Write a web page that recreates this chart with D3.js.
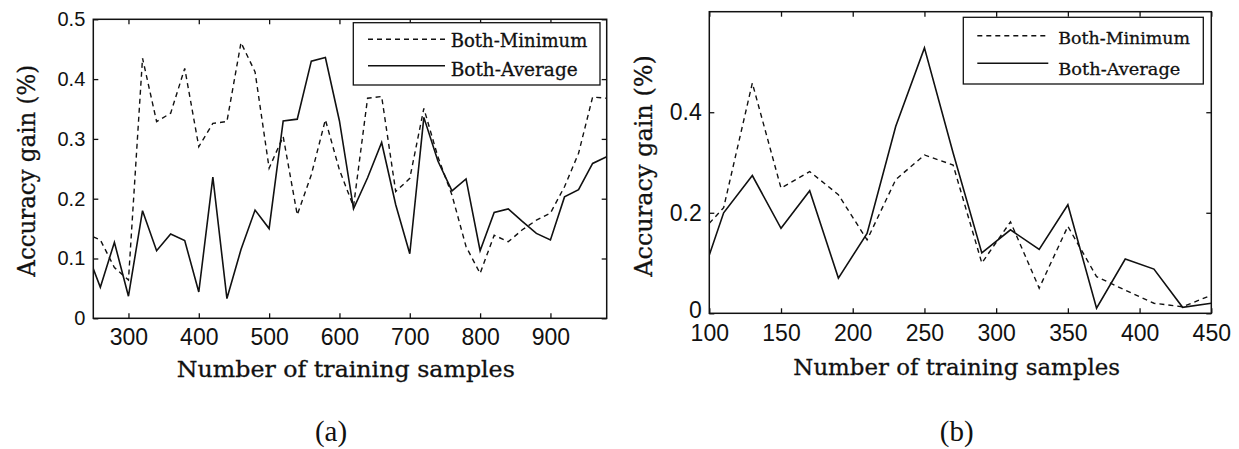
<!DOCTYPE html>
<html lang="en">
<head>
  <meta charset="UTF-8">
  <script src="https://d3js.org/d3.v7.min.js"></script>
  <style>
    body { margin: 0; background: #ffffff; }
    .tick-label { font-family: "Liberation Sans", Arial, sans-serif; fill: #111; }
    .serif { font-family: "DejaVu Serif", serif; fill: #111; stroke: #111; stroke-width: 0.3px; }
    .caption { font-family: "Liberation Serif", "Times New Roman", serif; fill: #111; }
  </style>
</head>
<body>
<div id="chart"></div>
<script>
  // panel (a)
  const aX = [250, 260, 280, 300, 320, 340, 360, 380, 400, 420, 440, 460, 480, 500, 520, 540, 560, 580, 600,
              620, 640, 660, 680, 700, 720, 740, 760, 780, 800, 820, 840, 860, 880, 900, 920, 940, 960, 980];
  const aMinimum = [0.136, 0.131, 0.085, 0.064, 0.435, 0.329, 0.343, 0.418, 0.287, 0.326, 0.329, 0.461, 0.412,
                    0.251, 0.304, 0.173, 0.24, 0.332, 0.248, 0.187, 0.368, 0.371, 0.212, 0.234, 0.351, 0.27,
                    0.206, 0.12, 0.075, 0.139, 0.128, 0.148, 0.164, 0.176, 0.22, 0.276, 0.37, 0.368];
  const aAverage = [0.083, 0.052, 0.127, 0.037, 0.18, 0.113, 0.141, 0.13, 0.044, 0.236, 0.033, 0.115, 0.181,
                    0.15, 0.33, 0.333, 0.43, 0.436, 0.33, 0.183, 0.235, 0.294, 0.19, 0.108, 0.336, 0.263,
                    0.213, 0.233, 0.113, 0.177, 0.183, 0.162, 0.142, 0.131, 0.203, 0.215, 0.259, 0.27];
  const aXTicks = [300, 400, 500, 600, 700, 800, 900];
  const aYTicks = [0, 0.1, 0.2, 0.3, 0.4, 0.5];

  // panel (b)
  const bX = [100, 110, 130, 150, 170, 190, 210, 230, 250, 270, 290, 310, 330, 350, 370, 390, 410, 430, 450];
  const bMinimum = [0.179, 0.21, 0.458, 0.249, 0.282, 0.236, 0.146, 0.266, 0.315, 0.295, 0.1, 0.182, 0.05,
                    0.173, 0.073, 0.046, 0.02, 0.013, 0.036];
  const bAverage = [0.116, 0.2, 0.274, 0.169, 0.244, 0.07, 0.159, 0.372, 0.528, 0.319, 0.12, 0.166, 0.127,
                    0.216, 0.01, 0.108, 0.088, 0.012, 0.02];
  const bXTicks = [100, 150, 200, 250, 300, 350, 400, 450];
  const bYTicks = [0, 0.2, 0.4];

  const seriesNames = ["Both-Minimum", "Both-Average"];
  const xTitle = "Number of training samples";
  const yTitle = "Accuracy gain (%)";

  const width = 1239, height = 449;

  const svg = d3.select("#chart").append("svg")
    .attr("width", width)
    .attr("height", height)
    .style("background", "#ffffff");

  function drawPanel(p) {
    const x = d3.scaleLinear().domain(p.xDomain).range([p.x0, p.x1]);
    const y = d3.scaleLinear().domain(p.yDomain).range([p.y1, p.y0]);
    const g = svg.append("g");

    g.append("clipPath").attr("id", p.id + "-clip")
      .append("rect")
      .attr("x", p.x0).attr("y", p.y0)
      .attr("width", p.x1 - p.x0).attr("height", p.y1 - p.y0);

    // ticks on all four sides, pointing inwards
    const bottom = g.append("g").attr("transform", `translate(0,${p.y1})`)
      .call(d3.axisBottom(x).tickValues(p.xTicks).tickSizeInner(-5).tickSizeOuter(0).tickPadding(p.xPad));
    const top = g.append("g").attr("transform", `translate(0,${p.y0})`)
      .call(d3.axisTop(x).tickValues(p.xTicks).tickSizeInner(-5).tickSizeOuter(0).tickFormat(""));
    const left = g.append("g").attr("transform", `translate(${p.x0},0)`)
      .call(d3.axisLeft(y).tickValues(p.yTicks).tickSizeInner(-5).tickSizeOuter(0).tickPadding(p.yPad)
        .tickFormat(d => d));
    const right = g.append("g").attr("transform", `translate(${p.x1},0)`)
      .call(d3.axisRight(y).tickValues(p.yTicks).tickSizeInner(-5).tickSizeOuter(0).tickFormat(""));

    [bottom, top, left, right].forEach(a => {
      a.select(".domain").remove();
      a.selectAll("line").attr("stroke", "#111").attr("stroke-width", 1.3);
      a.selectAll("text").attr("class", "tick-label").attr("fill", "#111");
    });
    bottom.selectAll("text").style("font-size", p.xFont + "px");
    left.selectAll("text").style("font-size", p.yFont + "px");
    // the zero label sits just above the first x label
    left.selectAll(".tick").filter(d => d === 0).select("text").attr("dy", p.zeroDy);

    const line = d3.line().x((d, i) => x(p.xs[i])).y(d => y(d));

    g.append("path").datum(p.minimum)
      .attr("clip-path", `url(#${p.id}-clip)`)
      .attr("fill", "none").attr("stroke", "#111")
      .attr("stroke-width", 1.4).attr("stroke-dasharray", "5,4")
      .attr("d", line);
    g.append("path").datum(p.average)
      .attr("clip-path", `url(#${p.id}-clip)`)
      .attr("fill", "none").attr("stroke", "#111")
      .attr("stroke-width", 1.6)
      .attr("d", line);

    // frame
    g.append("rect")
      .attr("x", p.x0).attr("y", p.y0)
      .attr("width", p.x1 - p.x0).attr("height", p.y1 - p.y0)
      .attr("fill", "none").attr("stroke", "#111").attr("stroke-width", 1.5);

    // legend
    const L = p.legend;
    g.append("rect")
      .attr("x", L.x0).attr("y", L.y0)
      .attr("width", L.x1 - L.x0).attr("height", L.y1 - L.y0)
      .attr("fill", "#ffffff").attr("stroke", "#111").attr("stroke-width", 1.3);
    seriesNames.forEach((name, i) => {
      g.append("line")
        .attr("x1", L.lx0).attr("x2", L.lx1)
        .attr("y1", L.rows[i]).attr("y2", L.rows[i])
        .attr("stroke", "#111")
        .attr("stroke-width", i === 0 ? 1.4 : 1.6)
        .attr("stroke-dasharray", i === 0 ? "5,4" : null);
      g.append("text").attr("class", "serif")
        .attr("x", L.tx).attr("y", L.baselines[i])
        .style("font-size", L.font + "px")
        .attr("textLength", L.textW[i]).attr("lengthAdjust", "spacingAndGlyphs")
        .text(name);
    });

    // axis titles
    g.append("text").attr("class", "serif")
      .attr("x", p.xt.cx).attr("y", p.xt.base)
      .attr("text-anchor", "middle")
      .style("font-size", p.xt.font + "px")
      .attr("textLength", p.xt.w).attr("lengthAdjust", "spacingAndGlyphs")
      .text(xTitle);
    g.append("text").attr("class", "serif")
      .attr("transform", `translate(${p.yt.base},${p.yt.cy}) rotate(-90)`)
      .attr("text-anchor", "middle")
      .style("font-size", p.yt.font + "px")
      .attr("textLength", p.yt.w).attr("lengthAdjust", "spacingAndGlyphs")
      .text(yTitle);

    g.append("text").attr("class", "caption")
      .attr("x", p.cap.cx).attr("y", p.cap.base)
      .attr("text-anchor", "middle")
      .style("font-size", "29px")
      .text(p.cap.text);
  }

  drawPanel({
    id: "a", xs: aX, minimum: aMinimum, average: aAverage,
    xDomain: [250, 980], yDomain: [0, 0.5], xTicks: aXTicks, yTicks: aYTicks,
    x0: 93.3, x1: 606.7, y0: 19.3, y1: 318.3,
    xPad: 10, yPad: 8, xFont: 23, yFont: 20, zeroDy: "0.32em",
    legend: { x0: 353.3, x1: 600, y0: 22.7, y1: 85, lx0: 368, lx1: 445, rows: [39.3, 65.7],
              tx: 450.7, baselines: [46.7, 75.5], font: 18, textW: [136.6, 127] },
    xt: { cx: 345.8, base: 376.7, font: 23, w: 338 },
    yt: { base: 35, cy: 170.8, font: 24, w: 211.7 },
    cap: { cx: 331, base: 441, text: "(a)" }
  });

  drawPanel({
    id: "b", xs: bX, minimum: bMinimum, average: bAverage,
    xDomain: [100, 450], yDomain: [0, 0.6], xTicks: bXTicks, yTicks: bYTicks,
    x0: 709.3, x1: 1211.3, y0: 11.7, y1: 313.3,
    xPad: 11.7, yPad: 7.6, xFont: 23, yFont: 23, zeroDy: "0.18em",
    legend: { x0: 963.3, x1: 1203.3, y0: 17.3, y1: 84, lx0: 977.3, lx1: 1048.3, rows: [35.7, 63.3],
              tx: 1058.3, baselines: [44.3, 75], font: 17.5, textW: [131.7, 122] },
    xt: { cx: 956.7, base: 375, font: 23, w: 326.7 },
    yt: { base: 651.7, cy: 166, font: 24, w: 221.7 },
    cap: { cx: 956.7, base: 441, text: "(b)" }
  });
</script>
</body>
</html>
